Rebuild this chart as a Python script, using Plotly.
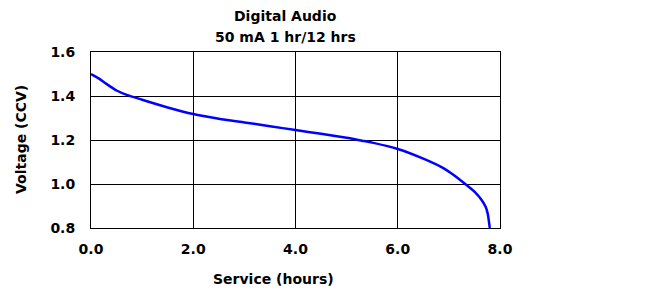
import plotly.graph_objects as go

hours = [0.0, 0.15, 0.3, 0.5, 0.7, 1.0, 1.5, 2.0, 2.5, 3.0, 3.5, 4.0, 4.5, 5.0, 5.3, 5.5, 6.0, 6.5, 6.9, 7.1, 7.32, 7.5, 7.64, 7.72, 7.76, 7.8]
voltage = [1.50, 1.48, 1.455, 1.425, 1.405, 1.383, 1.348, 1.318, 1.297, 1.280, 1.263, 1.245, 1.228, 1.210, 1.197, 1.188, 1.159, 1.115, 1.071, 1.040, 1.000, 0.965, 0.927, 0.895, 0.865, 0.80]

title_lines = ["Digital Audio", "50 mA 1 hr/12 hrs"]
x_ticks = [0, 2, 4, 6, 8]
x_labels = ["0.0", "2.0", "4.0", "6.0", "8.0"]
y_ticks = [0.8, 1.0, 1.2, 1.4, 1.6]
y_labels = ["0.8", "1.0", "1.2", "1.4", "1.6"]

FONT = "Verdana, DejaVu Sans, sans-serif"

# page body has an 8px margin: figure is 644x285 placed at (8,8)
W, H = 644, 285
L, R, T, B = 83, 152, 44, 65
pw = W - L - R
ph = H - T - B

def px(x):  # window px -> paper x
    return (x - 8 - L) / pw

def py(y):  # window px -> paper y
    return (H - B - (y - 8)) / ph

fig = go.Figure()
fig.add_trace(go.Scatter(x=hours, y=voltage, mode="lines",
                         line=dict(color="#0000ff", width=2.5, shape="spline", smoothing=0.6),
                         showlegend=False, hoverinfo="skip"))

fig.update_layout(
    width=W, height=H,
    margin=dict(l=L, r=R, t=T, b=B, pad=0),
    paper_bgcolor="white", plot_bgcolor="white",
    font=dict(family=FONT, size=13, color="black", weight="bold"),
    xaxis=dict(range=[0, 8], tickvals=x_ticks, ticktext=x_labels, showgrid=True,
               gridcolor="black", gridwidth=1, showline=True, linecolor="black", linewidth=1,
               mirror=True, zeroline=False, ticks="", ticklabelstandoff=8,
               tickfont=dict(family=FONT, size=14, weight="bold")),
    yaxis=dict(range=[0.8, 1.6], tickvals=y_ticks, ticktext=y_labels, showgrid=True,
               gridcolor="black", gridwidth=1, showline=True, linecolor="black", linewidth=1,
               mirror=True, zeroline=False, ticks="", ticklabelstandoff=12,
               tickfont=dict(family=FONT, size=14, weight="bold")),
    annotations=[
        dict(text=title_lines[0], x=px(285), y=py(16), xref="paper", yref="paper",
             showarrow=False, font=dict(family=FONT, size=14, weight="bold"),
             xanchor="center", yanchor="middle"),
        dict(text=title_lines[1], x=px(285), y=py(37), xref="paper", yref="paper",
             showarrow=False, font=dict(family=FONT, size=14, weight="bold"),
             xanchor="center", yanchor="middle"),
        dict(text="Service (hours)", x=px(273), y=py(279), xref="paper", yref="paper",
             showarrow=False, font=dict(family=FONT, size=14, weight="bold"),
             xanchor="center", yanchor="middle"),
        dict(text="Voltage (CCV)", x=px(21), y=py(140), xref="paper", yref="paper",
             showarrow=False, textangle=-90, font=dict(family=FONT, size=14, weight="bold"),
             xanchor="center", yanchor="middle"),
    ],
)

fig.write_html("out.html")
